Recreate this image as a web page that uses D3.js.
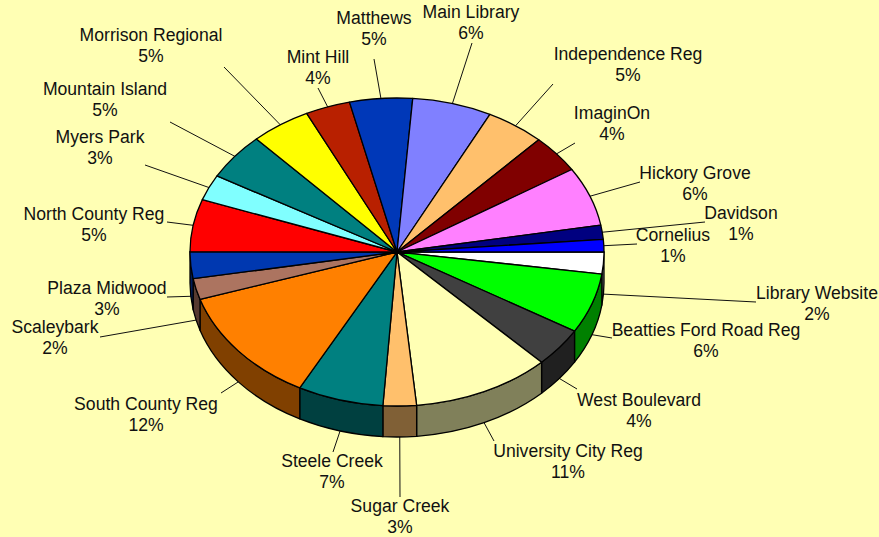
<!DOCTYPE html>
<html><head><meta charset="utf-8">
<script src="https://cdn.jsdelivr.net/npm/d3@7"></script>
<style>html,body{margin:0;padding:0;background:#FFFFB4}svg{display:block}text{font-family:"Liberation Sans",Arial,sans-serif;font-size:17.6px;fill:#111;text-anchor:middle;dominant-baseline:central}</style>
</head><body><svg id="c" width="879" height="537"></svg>
<script>
// Data, clockwise from the 3 o'clock position
const categories = ["Library Website","Beatties Ford Road Reg","West Boulevard","University City Reg","Sugar Creek","Steele Creek","South County Reg","Scaleybark","Plaza Midwood","North County Reg","Myers Park","Mountain Island","Morrison Regional","Mint Hill","Matthews","Main Library","Independence Reg","ImaginOn","Hickory Grove","Davidson","Cornelius"];
const values = [2.3,6.3,4.1,10.8,2.6,6.7,12.25,2.2,2.8,5.5,2.7,4.9,4.7,3.5,4.9,6.2,4.6,4.0,6.2,1.5,1.3];
const percentLabels = ["2%","6%","4%","11%","3%","7%","12%","2%","3%","5%","3%","5%","5%","4%","5%","6%","5%","4%","6%","1%","1%"];
const colors = ["#FFFFFF","#00FF00","#404040","#FFFFB4","#FFC06C","#008080","#FF8000","#AC7460","#0038B0","#FF0000","#80FFFF","#008080","#FFFF00","#B82000","#0038B8","#8080FF","#FFC06C","#800000","#FF80FF","#000080","#0000FF"];
// Layout: label centre (first line) and leader-line end for each category
const labelCentres = [[817,293],[706,330],[639,400],[568,451],[400,506],[332,461],[146,404],[55,327],[107,288],[94,214],[100,137],[105,89],[151,35],[318,57],[374,18],[471,12],[628,54],[612,113],[695,173],[741,213],[673,235]];
const leaderEnds = [[756,302],[612,338],[577,389],[494,441],[400,497],[333,452],[221,393],[100,337],[167,297],[167,222],[145,165],[170,122],[224,67],[318,88],[374,59],[472,43],[553,84],[575,143],[640,182],[705,222],[637,244]];

const cx=397, cy=252, rx=207, ry=154, depth=31, R=100, lineGap=21;
const svg=d3.select("#c");
const sx=d3.scaleLinear().domain([-R,R]).range([cx-rx,cx+rx]);
const sy=d3.scaleLinear().domain([-R,R]).range([cy-ry,cy+ry]);
const pie=d3.pie().sort(null).startAngle(Math.PI/2).endAngle(Math.PI/2+2*Math.PI);
const arcs=pie(values);
const px=a=>sx(R*Math.sin(a)), py=a=>sy(-R*Math.cos(a));
const isFront=a=>{const n=((a%(2*Math.PI))+2*Math.PI)%(2*Math.PI);return n>Math.PI/2&&n<3*Math.PI/2;};

// leader lines
const mid=d=>(d.startAngle+d.endAngle)/2;
svg.append("g").selectAll("line").data(arcs).join("line")
  .attr("x1",d=>px(mid(d))).attr("y1",d=>py(mid(d))+(isFront(mid(d))?depth:0))
  .attr("x2",(d,i)=>leaderEnds[i][0]).attr("y2",(d,i)=>leaderEnds[i][1])
  .attr("stroke","#111").attr("stroke-width",1);

// side walls of the visible front half
svg.append("g").selectAll("path").data(arcs.filter(d=>d.startAngle<3*Math.PI/2)).join("path")
  .attr("d",d=>{
    const a0=d.startAngle,a1=Math.min(d.endAngle,3*Math.PI/2);
    return `M${px(a0)},${py(a0)}A${rx},${ry} 0 0 1 ${px(a1)},${py(a1)}L${px(a1)},${py(a1)+depth}A${rx},${ry} 0 0 0 ${px(a0)},${py(a0)+depth}Z`;
  })
  .attr("fill",d=>{const c=d3.rgb(colors[d.index]);return d3.rgb(c.r*0.5,c.g*0.5,c.b*0.5).formatHex();})
  .attr("stroke","#000").attr("stroke-width",1.3).attr("stroke-linejoin","round");

// top face
const arc=d3.arc().innerRadius(0).outerRadius(R);
svg.append("g").attr("transform",`translate(${cx},${cy}) scale(${rx/R},${ry/R})`)
  .selectAll("path").data(arcs).join("path")
  .attr("d",arc).attr("fill",d=>colors[d.index])
  .attr("stroke","#000").attr("stroke-width",1.3).attr("vector-effect","non-scaling-stroke").attr("stroke-linejoin","round");

// labels
const lab=svg.append("g").selectAll("g").data(categories).join("g");
lab.append("text").attr("x",(d,i)=>labelCentres[i][0]).attr("y",(d,i)=>labelCentres[i][1]).text(d=>d);
lab.append("text").attr("x",(d,i)=>labelCentres[i][0]).attr("y",(d,i)=>labelCentres[i][1]+lineGap).text((d,i)=>percentLabels[i]);
</script></body></html>
